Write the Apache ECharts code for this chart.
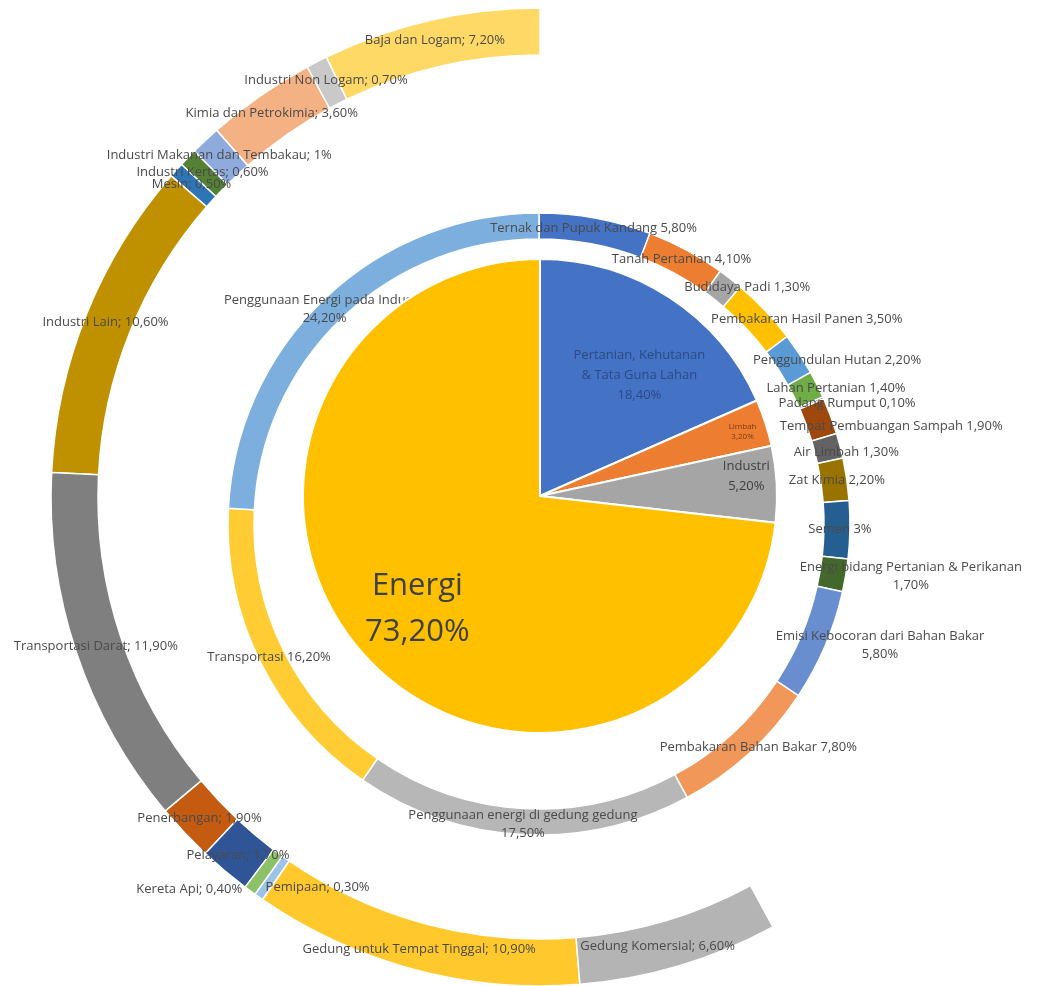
<!DOCTYPE html>
<html>
<head>
<meta charset="utf-8">
<script src="https://cdn.jsdelivr.net/npm/echarts@6/dist/echarts.min.js"></script>
<style>
html,body{margin:0;padding:0;background:#ffffff;}
#chart{width:1040px;height:986px;}
</style>
</head>
<body>
<div id="chart"></div>
<script>
// ---------------- DATA ----------------
const innerNames = ['Pertanian, Kehutanan & Tata Guna Lahan', 'Limbah', 'Industri', 'Energi'];
const innerValues = [18.4, 3.2, 5.2, 73.2];

const middleNames = [
  'Ternak dan Pupuk Kandang', 'Tanah Pertanian', 'Budidaya Padi', 'Pembakaran Hasil Panen',
  'Penggundulan Hutan', 'Lahan Pertanian', 'Padang Rumput',
  'Tempat Pembuangan Sampah', 'Air Limbah',
  'Zat Kimia', 'Semen',
  'Energi bidang Pertanian & Perikanan', 'Emisi Kebocoran dari Bahan Bakar', 'Pembakaran Bahan Bakar',
  'Penggunaan energi di gedung gedung', 'Transportasi', 'Penggunaan Energi pada Industri'
];
const middleValues = [5.8, 4.1, 1.3, 3.5, 2.2, 1.4, 0.1, 1.9, 1.3, 2.2, 3, 1.7, 5.8, 7.8, 17.5, 16.2, 24.2];

const outerNames = [
  'Baja dan Logam', 'Industri Non Logam', 'Kimia dan Petrokimia', 'Industri Makanan dan Tembakau',
  'Industri Kertas', 'Mesin', 'Industri Lain',
  'Transportasi Darat', 'Penerbangan', 'Pelayaran', 'Kereta Api', 'Pemipaan',
  'Gedung untuk Tempat Tinggal', 'Gedung Komersial'
];
const outerValues = [7.2, 0.7, 3.6, 1, 0.6, 0.5, 10.6, 11.9, 1.9, 1.7, 0.4, 0.3, 10.9, 6.6];

// ---------------- STYLES ----------------
const innerColors = ['#4472C4', '#ED7D31', '#A5A5A5', '#FFC000'];
const middleColors = ['#4472C4', '#ED7D31', '#A5A5A5', '#FFC000', '#5B9BD5', '#70AD47', '#264478',
  '#9E480E', '#636363', '#997300', '#255E91', '#43682B', '#698ED0', '#F1975A', '#B7B7B7', '#FFCD33', '#7CAFDD'];
const outerColors = ['#FFD966', '#C9C9C9', '#F4B183', '#8FAADC', '#548235', '#2E75B6', '#BF9000',
  '#7F7F7F', '#C55A11', '#2F5597', '#8CC168', '#9DC3E6', '#FFC92E', '#B4B4B4'];

// names whose middle-ring label is on two lines
const middleTwoLine = ['Energi bidang Pertanian & Perikanan', 'Emisi Kebocoran dari Bahan Bakar',
  'Penggunaan energi di gedung gedung', 'Penggunaan Energi pada Industri'];

// label nudges (dx, dy) from the library's default label place
const innerNudge = { 0: [33, -19], 1: [87, -27], 2: [85, -14], 3: [-32, 32] };
const middleNudge = { 2: [23, 1], 3: [49, 2], 4: [46, 1], 5: [28, -1], 6: [33, 1], 7: [70, 7], 8: [16, 4],
  11: [75, 2], 12: [64, 3], 13: [16, 1], 16: [-7, 3] };
const outerNudge = { 10: [-73, 15], 11: [47, 7], 13: [-16, 0] };

const FONT = '"Open Sans", "Liberation Sans", sans-serif';
const TEXT = '#4a4a4a';

function pct(v) {
  if (Math.abs(v - Math.round(v)) < 1e-9) return Math.round(v) + '%';
  return v.toFixed(2).replace('.', ',') + '%';
}
function nudger(map) {
  return function (p) {
    const d = map[p.dataIndex];
    return d ? { dx: d[0], dy: d[1] } : {};
  };
}

const innerData = innerNames.map((n, i) => {
  const item = { name: n, value: innerValues[i], itemStyle: { color: innerColors[i] } };
  if (n === 'Energi') item.label = { fontSize: 31, lineHeight: 46, color: '#404040' };
  if (n === 'Limbah') item.label = { fontSize: 8, lineHeight: 10, color: '#7a3a10' };
  if (i === 0) item.label = { color: '#2c4a86' };
  return item;
});
const middleData = middleNames.map((n, i) => ({ name: n, value: middleValues[i], itemStyle: { color: middleColors[i] } }));
const outerSum = outerValues.reduce((a, b) => a + b, 0);
const outerData = outerNames.map((n, i) => ({ name: n, value: outerValues[i], itemStyle: { color: outerColors[i] } }));
outerData.push({
  name: '', value: Math.max(0, 100 - outerSum),
  itemStyle: { color: 'rgba(0,0,0,0)', borderWidth: 0 },
  label: { show: false }, tooltip: { show: false }
});

const chart = echarts.init(document.getElementById('chart'), null, { renderer: 'canvas' });
chart.setOption({
  animation: false,
  backgroundColor: '#ffffff',
  textStyle: { fontFamily: FONT },
  series: [
    {
      type: 'pie', name: 'outer', z: 1,
      center: [540, 497], radius: [442, 489],
      startAngle: 90, clockwise: false,
      avoidLabelOverlap: false, silent: true,
      emphasis: { disabled: true },
      itemStyle: { borderColor: '#ffffff', borderWidth: 1.5 },
      label: {
        show: true, position: 'inside', fontFamily: FONT, fontSize: 13, color: TEXT,
        formatter: p => p.name + '; ' + pct(p.value)
      },
      labelLine: { show: false },
      labelLayout: nudger(outerNudge),
      data: outerData
    },
    {
      type: 'pie', name: 'middle', z: 2,
      center: [539, 524], radius: [285, 311],
      startAngle: 90, clockwise: true,
      avoidLabelOverlap: false, silent: true,
      emphasis: { disabled: true },
      itemStyle: { borderColor: '#ffffff', borderWidth: 1.5 },
      label: {
        show: true, position: 'inside', fontFamily: FONT, fontSize: 13, lineHeight: 18, color: TEXT,
        formatter: p => p.name + (middleTwoLine.indexOf(p.name) >= 0 ? '\n' : ' ') + pct(p.value)
      },
      labelLine: { show: false },
      labelLayout: nudger(middleNudge),
      data: middleData
    },
    {
      type: 'pie', name: 'inner', z: 3,
      center: [540, 496], radius: [0, 237],
      startAngle: 90, clockwise: true,
      avoidLabelOverlap: false, silent: true,
      emphasis: { disabled: true },
      itemStyle: { borderColor: '#ffffff', borderWidth: 2 },
      label: {
        show: true, position: 'inside', fontFamily: FONT, fontSize: 13, lineHeight: 20, color: '#404040',
        formatter: p => p.name.replace(' & ', '\n& ') + '\n' + pct(p.value)
      },
      labelLine: { show: false },
      labelLayout: nudger(innerNudge),
      data: innerData
    }
  ]
});
</script>
</body>
</html>
